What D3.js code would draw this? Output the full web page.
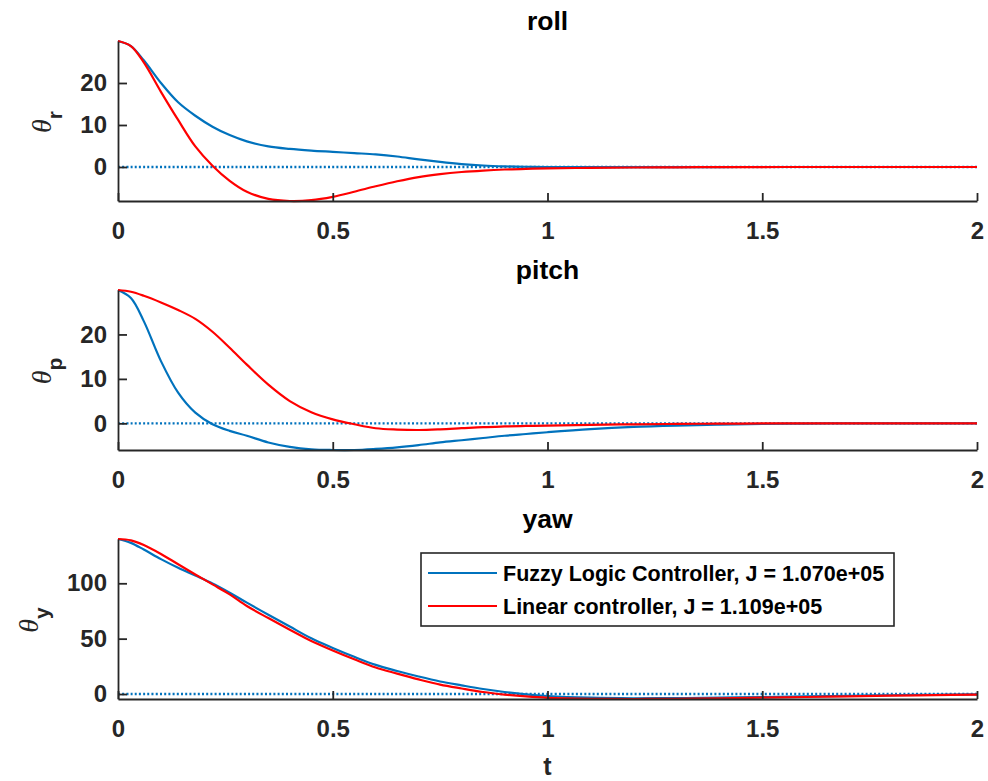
<!DOCTYPE html>
<html>
<head>
<meta charset="utf-8">
<script src="https://cdn.jsdelivr.net/npm/d3@7"></script>
<style>
  html, body { margin: 0; padding: 0; background: #fff; }
  svg { display: block; }
</style>
</head>
<body>
<svg id="chart" width="988" height="781"></svg>
<script>
// Time samples (s) shared by every response series
const timeSamples = [0, 0.03, 0.06, 0.10, 0.14, 0.18, 0.22, 0.26, 0.30, 0.35, 0.40, 0.45, 0.50, 0.55, 0.60, 0.65, 0.70, 0.75, 0.80, 0.85, 0.90, 0.95, 1.0, 1.1, 1.2, 1.3, 1.4, 1.5, 1.6, 1.7, 1.8, 1.9, 2.0];

// Roll angle response
const rollFuzzy  = [30, 28.8, 25.4, 20.0, 15.4, 12.2, 9.6, 7.6, 6.1, 4.9, 4.3, 3.9, 3.6, 3.3, 3.0, 2.5, 1.8, 1.2, 0.7, 0.35, 0.15, 0.05, 0, -0.05, -0.03, -0.02, -0.01, 0, 0, 0, 0, 0, 0];
const rollLinear = [30, 28.8, 24.9, 17.9, 11.2, 4.9, 0.3, -3.3, -5.9, -7.6, -8.1, -7.9, -7.1, -5.9, -4.6, -3.4, -2.4, -1.7, -1.2, -0.85, -0.6, -0.45, -0.35, -0.2, -0.12, -0.07, -0.04, -0.02, 0, 0, 0, 0, 0];

// Pitch angle response
const pitchFuzzy  = [30, 28.2, 23.0, 14.0, 6.9, 2.4, -0.2, -1.7, -2.8, -4.3, -5.3, -5.85, -6.0, -6.0, -5.75, -5.4, -4.9, -4.3, -3.8, -3.3, -2.8, -2.4, -2.0, -1.3, -0.8, -0.5, -0.3, -0.15, -0.05, 0, 0, 0, 0];
const pitchLinear = [30, 29.6, 28.7, 27.2, 25.5, 23.5, 20.6, 17.0, 13.2, 8.7, 5.0, 2.5, 0.9, -0.2, -1.1, -1.4, -1.5, -1.35, -1.1, -0.85, -0.7, -0.58, -0.5, -0.35, -0.22, -0.13, -0.07, -0.03, 0, 0, 0, 0, 0];

// Yaw angle response
const yawFuzzy  = [140, 136.5, 130.5, 121.8, 114, 107, 99.8, 91.5, 82.5, 71.6, 60.9, 50.3, 41.6, 33.6, 26.3, 20.8, 15.8, 11.3, 7.8, 4.5, 1.8, -0.3, -1.8, -3.3, -3.8, -3.7, -3.3, -2.8, -2.2, -1.6, -1.1, -0.7, -0.4];
const yawLinear = [140, 138.8, 134.6, 126.5, 117.2, 108, 99, 90, 79.5, 68.6, 58.1, 47.9, 39.4, 31.4, 23.9, 18.4, 13.2, 8.5, 5.0, 1.8, -0.5, -2.2, -3.4, -4.3, -4.5, -4.3, -3.9, -3.3, -2.7, -2.1, -1.5, -1.0, -0.6];

// Reference (set-point) signal
const reference = timeSamples.map(() => 0);

// Axis ticks and labels
const xTicks = [0, 0.5, 1, 1.5, 2];
const angleTicks = [0, 10, 20];
const yawTicks = [0, 50, 100];
const panelTitles = ["roll", "pitch", "yaw"];
const axisSubscripts = ["r", "p", "y"];
const xAxisLabel = "t";
const legendLabels = ["Fuzzy Logic Controller, J = 1.070e+05", "Linear controller, J = 1.109e+05"];

const fuzzyColor = "#0072BD";
const linearColor = "#FF0000";
const axisColor = "#262626";
const sansFont = '"Liberation Sans", Arial, sans-serif';

const panels = [
  { title: panelTitles[0], sub: axisSubscripts[0], fuzzy: rollFuzzy, linear: rollLinear, ticks: angleTicks },
  { title: panelTitles[1], sub: axisSubscripts[1], fuzzy: pitchFuzzy, linear: pitchLinear, ticks: angleTicks },
  { title: panelTitles[2], sub: axisSubscripts[2], fuzzy: yawFuzzy, linear: yawLinear, ticks: yawTicks }
];

const svg = d3.select("#chart");
const left = 118, right = 977;
const panelTops = [41, 290, 539];
const panelHeight = 160;

const x = d3.scaleLinear().domain([0, 2]).range([left, right]);

panels.forEach((p, i) => {
  const top = panelTops[i];
  const bottom = top + panelHeight;
  const extent = d3.extent(p.fuzzy.concat(p.linear, reference));
  const y = d3.scaleLinear().domain(extent).range([bottom, top]);

  const g = svg.append("g");

  const line = (vals) => d3.line()
    .x((d, k) => x(timeSamples[k]))
    .y(d => y(d))
    .curve(d3.curveCatmullRom.alpha(0.5))(vals);

  // reference line (dotted)
  g.append("path")
    .attr("d", line(reference))
    .attr("fill", "none")
    .attr("stroke", fuzzyColor)
    .attr("stroke-width", 2.3)
    .attr("stroke-dasharray", "2,2.2");

  g.append("path")
    .attr("d", line(p.fuzzy))
    .attr("fill", "none")
    .attr("stroke", fuzzyColor)
    .attr("stroke-width", 2.2);

  g.append("path")
    .attr("d", line(p.linear))
    .attr("fill", "none")
    .attr("stroke", linearColor)
    .attr("stroke-width", 2.2);

  // axes (ticks pointing inward, left and bottom only)
  const xAxis = d3.axisBottom(x)
    .tickValues(xTicks)
    .tickFormat(d3.format("~g"))
    .tickSizeInner(-8)
    .tickSizeOuter(0)
    .tickPadding(21);
  const yAxis = d3.axisLeft(y)
    .tickValues(p.ticks)
    .tickFormat(d3.format("~g"))
    .tickSizeInner(-9)
    .tickSizeOuter(0)
    .tickPadding(11);

  const gx = g.append("g").attr("transform", `translate(0,${bottom})`).call(xAxis);
  const gy = g.append("g").attr("transform", `translate(${left},0)`).call(yAxis);

  [gx, gy].forEach(a => {
    a.attr("font-size", null).attr("font-family", null);
    a.select(".domain").attr("stroke", axisColor).attr("stroke-width", 1.8);
    a.selectAll(".tick line").attr("stroke", axisColor).attr("stroke-width", 1.8);
    a.selectAll(".tick text")
      .attr("fill", axisColor)
      .style("font-size", "24px")
      .style("font-weight", "bold")
      .style("font-family", sansFont);
  });

  // title
  g.append("text")
    .attr("x", (left + right) / 2)
    .attr("y", top - 11)
    .attr("text-anchor", "middle")
    .style("font-family", sansFont)
    .style("font-weight", "bold")
    .style("font-size", "26.5px")
    .attr("fill", "#000")
    .text(p.title);

  // y label: theta with subscript, rotated
  const labelsBox = gy.node().getBBox();
  const baseX = left + labelsBox.x - 29;
  const ylab = g.append("text")
    .attr("transform", `translate(${baseX},${(top + bottom) / 2 + 1}) rotate(-90)`)
    .attr("text-anchor", "middle")
    .attr("fill", axisColor);
  ylab.append("tspan")
    .style("font-family", '"Liberation Serif", "Times New Roman", serif')
    .style("font-style", "italic")
    .style("font-size", "28px")
    .text("\u03B8");
  ylab.append("tspan")
    .attr("dy", 11)
    .style("font-family", sansFont)
    .style("font-weight", "bold")
    .style("font-size", "21px")
    .text(p.sub);

  if (i === 2) {
    svg.append("text")
      .attr("x", (left + right) / 2)
      .attr("y", 775)
      .attr("text-anchor", "middle")
      .style("font-family", sansFont)
      .style("font-weight", "bold")
      .style("font-size", "25px")
      .attr("fill", axisColor)
      .text(xAxisLabel);
  }
});

// legend in the yaw panel
const legend = svg.append("g");
legend.append("rect")
  .attr("x", 421).attr("y", 553)
  .attr("width", 473).attr("height", 73)
  .attr("fill", "#fff")
  .attr("stroke", axisColor)
  .attr("stroke-width", 1.6);
const legendColors = [fuzzyColor, linearColor];
legendLabels.forEach((lab, k) => {
  const ly = 573 + k * 33;
  legend.append("line")
    .attr("x1", 428).attr("x2", 497)
    .attr("y1", ly).attr("y2", ly)
    .attr("stroke", legendColors[k])
    .attr("stroke-width", 2.2);
  legend.append("text")
    .attr("x", 503).attr("y", ly)
    .attr("dy", "0.36em")
    .style("font-family", sansFont)
    .style("font-weight", "bold")
    .style("font-size", "21.5px")
    .attr("fill", "#000")
    .text(lab);
});
</script>
</body>
</html>
